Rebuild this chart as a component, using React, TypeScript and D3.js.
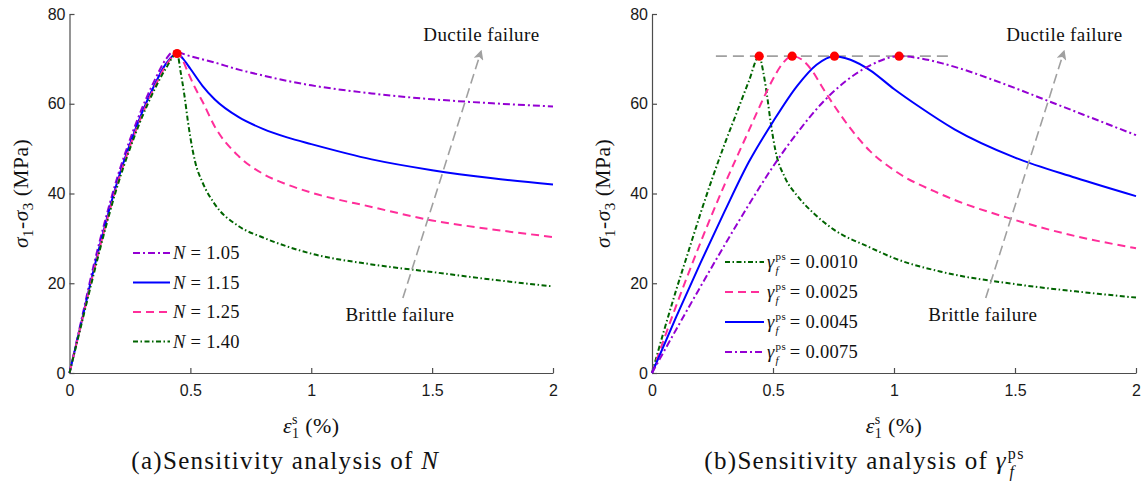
import { useEffect, useRef } from "react";
import * as d3 from "d3";

type Pt = [number, number];

const xTicks = [0, 0.5, 1, 1.5, 2];
const yTicks = [0, 20, 40, 60, 80];

// (a) sensitivity to N
const curveN105: Pt[] = [[0, 0], [0.05, 12], [0.1, 24], [0.15, 34.5], [0.2, 44], [0.25, 52], [0.3, 59], [0.35, 65], [0.4, 70], [0.43, 71.6], [0.5, 70.6], [0.6, 69.2], [0.7, 67.6], [0.8, 66.3], [0.9, 65.1], [1.0, 64.1], [1.25, 62.3], [1.5, 61], [1.75, 60.1], [2, 59.4]];
const curveN115: Pt[] = [[0, 0], [0.05, 11.5], [0.1, 23], [0.15, 33.5], [0.2, 43], [0.25, 51], [0.3, 58], [0.35, 64], [0.4, 69], [0.445, 71.2], [0.47, 70], [0.5, 67.8], [0.55, 64], [0.6, 61], [0.7, 57], [0.8, 54.4], [0.9, 52.5], [1.0, 51], [1.25, 47.6], [1.5, 45.2], [1.75, 43.4], [2, 42]];
const curveN125: Pt[] = [[0, 0], [0.05, 11.3], [0.1, 22.6], [0.15, 33], [0.2, 42.5], [0.25, 50.5], [0.3, 57.5], [0.35, 63.5], [0.4, 68.6], [0.445, 71.2], [0.47, 69.5], [0.49, 67], [0.52, 63.5], [0.55, 60.5], [0.6, 55], [0.7, 48.3], [0.8, 44.4], [0.9, 42], [1.0, 40.2], [1.25, 37], [1.5, 34], [1.75, 32], [2, 30.3]];
const curveN140: Pt[] = [[0, 0], [0.05, 11], [0.1, 22], [0.15, 32.5], [0.2, 42], [0.25, 50], [0.3, 57], [0.35, 63], [0.4, 68], [0.445, 71.2], [0.46, 67], [0.475, 62], [0.49, 56], [0.5, 52.5], [0.52, 47], [0.55, 42.5], [0.6, 37.7], [0.7, 32.7], [0.8, 30.2], [0.9, 28.2], [1.0, 26.6], [1.25, 24.2], [1.5, 22.5], [1.75, 20.8], [2, 19.3]];
const peaksN: Pt[] = [[0.445, 71.2]];

// (b) sensitivity to gamma_f^ps
const curveG0010: Pt[] = [[0, 0], [0.05, 9.5], [0.1, 18.5], [0.15, 27], [0.2, 35.5], [0.25, 43.5], [0.3, 51], [0.35, 58], [0.4, 65], [0.443, 70.6], [0.46, 67], [0.475, 62], [0.49, 56], [0.51, 49.6], [0.55, 43.5], [0.6, 39.5], [0.67, 35.5], [0.75, 32], [0.9, 28], [1.0, 25.6], [1.2, 22.5], [1.5, 19.8], [1.75, 18.2], [2, 16.8]];
const curveG0025: Pt[] = [[0, 0], [0.1, 15], [0.2, 29], [0.3, 42], [0.4, 54], [0.45, 60], [0.5, 65.5], [0.54, 69], [0.579, 70.6], [0.62, 69.8], [0.66, 67.5], [0.7, 64], [0.75, 59.8], [0.82, 54.5], [0.9, 49.5], [1.0, 45.2], [1.2, 39.7], [1.5, 34.1], [1.75, 30.5], [2, 27.8]];
const curveG0045: Pt[] = [[0, 0], [0.1, 12.5], [0.2, 24.5], [0.3, 36], [0.4, 47], [0.5, 56], [0.6, 64], [0.68, 68.7], [0.754, 70.6], [0.82, 69.8], [0.9, 67.5], [1.0, 63.3], [1.1, 59.5], [1.25, 54.3], [1.5, 48], [1.75, 43.5], [2, 39.4]];
const curveG0075: Pt[] = [[0, 0], [0.1, 9.7], [0.2, 19.2], [0.3, 28.5], [0.4, 37.5], [0.5, 46], [0.6, 53.5], [0.7, 60], [0.8, 65], [0.9, 68.5], [1.021, 70.6], [1.1, 70.2], [1.2, 69.0], [1.3, 67.4], [1.4, 65.5], [1.5, 63.5], [1.6, 61.4], [1.7, 59.3], [1.8, 57.2], [1.9, 55.1], [2, 53]];
const peaksG: Pt[] = [[0.443, 70.6], [0.579, 70.6], [0.754, 70.6], [1.021, 70.6]];
const peakLineG: Pt[] = [[0.264, 70.6], [1.234, 70.6]];

const labelsN = ["1.05", "1.15", "1.25", "1.40"];
const labelsG = ["0.0010", "0.0025", "0.0045", "0.0075"];

// arrows & notes in data units
const trendArrow: Pt[] = [[1.379, 16.7], [1.702, 71.6]];
const ductileAt: Pt = [1.704, 74];
const brittleAt: Pt = [1.367, 11.6];

const PURPLE = "#9400d3";
const BLUE = "#0000ff";
const PINK = "#ff2e9a";
const GREEN = "#006400";
const AXIS = "#4d4d4d";
const GREY = "#a0a0a0";
const SERIF = "Liberation Serif, DejaVu Serif, serif";
const SANS = "Liberation Sans, Arial, sans-serif";

const DASHDOT = "7,3,2,3";
const DASHDOT_FINE = "5,2.5,1.5,2.5";
const DASHED = "8,5";

interface Series { data: Pt[]; color: string; dash: string | null; }

const serifStyle = { fontFamily: SERIF };

function Gamma({ size }: { size: number }) {
  const s = Math.round(size * 0.62);
  const psW = s * 0.95;
  const fW = s * 0.32;
  return (
    <>
      <tspan fontStyle="italic">γ</tspan>
      <tspan fontSize={s} dx={1} dy={-size * 0.42}>ps</tspan>
      <tspan fontSize={s} fontStyle="italic" dx={-psW} dy={size * 0.72}>f</tspan>
      <tspan dx={psW - fW} dy={-size * 0.3}>{"\u2009"}</tspan>
    </>
  );
}

function Axes({ x, y, h }: { x: d3.ScaleLinear<number, number>; y: d3.ScaleLinear<number, number>; h: number }) {
  const gx = useRef<SVGGElement>(null);
  const gy = useRef<SVGGElement>(null);
  useEffect(() => {
    const style = (g: d3.Selection<SVGGElement, unknown, null, undefined>) => {
      g.attr("font-family", null).style("font-family", SANS).attr("font-size", 16);
      g.select(".domain").attr("stroke", AXIS).attr("stroke-width", 1.2);
      g.selectAll(".tick line").attr("stroke", AXIS).attr("stroke-width", 1.2);
      g.selectAll(".tick text").attr("fill", "#1a1a1a");
    };
    d3.select(gx.current!)
      .call(d3.axisBottom(x).tickValues(xTicks).tickSizeInner(-5).tickSizeOuter(0).tickPadding(12).tickFormat((d) => String(d)))
      .call(style);
    d3.select(gy.current!)
      .call(d3.axisLeft(y).tickValues(yTicks).tickSizeInner(-5).tickSizeOuter(0).tickPadding(4).tickFormat((d) => String(d)))
      .call(style);
  }, [x, y]);
  return (
    <>
      <g ref={gx} transform={`translate(0,${h})`} />
      <g ref={gy} transform={`translate(${x.range()[0]},0)`} />
    </>
  );
}

function Panel(props: {
  x0: number; x1: number; series: Series[]; peaks: Pt[]; peakLine?: Pt[];
  legendX: number; legendY: number; legendStep: number; legendLen: number;
  legend: (i: number) => JSX.Element; caption: JSX.Element;
}) {
  const top = 14, bottom = 373;
  const x = d3.scaleLinear().domain([0, 2]).range([props.x0, props.x1]);
  const y = d3.scaleLinear().domain([0, 80]).range([bottom, top]);
  const line = d3.line<Pt>().x((d) => x(d[0])).y((d) => y(d[1])).curve(d3.curveMonotoneX);
  const flat = d3.line<Pt>().x((d) => x(d[0])).y((d) => y(d[1]));
  const cx = (props.x0 + props.x1) / 2;
  return (
    <g>
      <Axes x={x} y={y} h={bottom} />
      {props.peakLine && (
        <path d={flat(props.peakLine)!} fill="none" stroke={GREY} strokeWidth={1.8} strokeDasharray="11,6" />
      )}
      {props.series.map((s, i) => (
        <path key={i} d={line(s.data)!} fill="none" stroke={s.color} strokeWidth={2}
          strokeDasharray={s.dash ?? undefined} />
      ))}
      {props.peaks.map((p, i) => (
        <circle key={i} cx={x(p[0])} cy={y(p[1])} r={4.6} fill="#ff0000" />
      ))}
      <path d={flat(trendArrow)!} fill="none" stroke={GREY} strokeWidth={1.6} strokeDasharray="10,5" markerEnd="url(#arrowHead)" />
      <text x={x(ductileAt[0])} y={y(ductileAt[1])} textAnchor="middle" style={serifStyle} fontSize={19} letterSpacing={0.4} fill="#111">Ductile failure</text>
      <text x={x(brittleAt[0])} y={y(brittleAt[1])} textAnchor="middle" style={serifStyle} fontSize={19} letterSpacing={0.4} fill="#111">Brittle failure</text>
      {props.series.map((s, i) => {
        const ly = props.legendY + i * props.legendStep;
        const lx = props.x0 + props.legendX;
        return (
          <g key={i}>
            <line x1={lx} x2={lx + props.legendLen} y1={ly} y2={ly} stroke={s.color} strokeWidth={2}
              strokeDasharray={s.dash ?? undefined} />
            <text x={lx + props.legendLen + 3} y={ly + 6} style={serifStyle} fontSize={18.5} letterSpacing={0.3} fill="#111">{props.legend(i)}</text>
          </g>
        );
      })}
      <text transform={`translate(${props.x0 - 42},${(top + bottom) / 2}) rotate(-90)`} textAnchor="middle"
        style={serifStyle} fontSize={21.5} letterSpacing={0.5} fill="#111">
        <tspan fontStyle="italic">σ</tspan>
        <tspan fontSize={15} dy={5}>1</tspan>
        <tspan dy={-5}>-</tspan>
        <tspan fontStyle="italic">σ</tspan>
        <tspan fontSize={15} dy={5}>3</tspan>
        <tspan dy={-5}>{"\u00a0(MPa)"}</tspan>
      </text>
      <text x={cx} y={433} textAnchor="middle" style={serifStyle} fontSize={22} letterSpacing={0.4} fill="#111">
        <tspan fontStyle="italic">ε</tspan>
        <tspan fontSize={14} dy={-9}>s</tspan>
        <tspan fontSize={14} dx={-6} dy={14}>1</tspan>
        <tspan dy={-5}>{"\u00a0(%)"}</tspan>
      </text>
      <text x={cx - 26} y={469} textAnchor="middle" style={serifStyle} fontSize={25} letterSpacing={1.3} fill="#111">{props.caption}</text>
    </g>
  );
}

export default function App() {
  const seriesN: Series[] = [
    { data: curveN105, color: PURPLE, dash: DASHDOT },
    { data: curveN115, color: BLUE, dash: null },
    { data: curveN125, color: PINK, dash: DASHED },
    { data: curveN140, color: GREEN, dash: DASHDOT_FINE },
  ];
  const seriesG: Series[] = [
    { data: curveG0010, color: GREEN, dash: DASHDOT_FINE },
    { data: curveG0025, color: PINK, dash: DASHED },
    { data: curveG0045, color: BLUE, dash: null },
    { data: curveG0075, color: PURPLE, dash: DASHDOT },
  ];
  return (
    <svg width={1145} height={486} style={{ position: "absolute", left: 0, top: 0, background: "#fff" }}>
      <defs>
        <marker id="arrowHead" viewBox="0 0 10 10" refX="8" refY="5" markerWidth="10" markerHeight="10"
          markerUnits="userSpaceOnUse" orient="auto">
          <path d="M0,0 L10,5 L0,10 L2.5,5 Z" fill={GREY} />
        </marker>
      </defs>
      <Panel x0={69.5} x1={553} series={seriesN} peaks={peaksN}
        legendX={63.5} legendY={253} legendStep={29.5} legendLen={37}
        legend={(i) => (<><tspan fontStyle="italic">N</tspan>{` = ${labelsN[i]}`}</>)}
        caption={<>(a)Sensitivity analysis of <tspan fontStyle="italic">N</tspan></>} />
      <Panel x0={652} x1={1136} series={seriesG} peaks={peaksG} peakLine={peakLineG}
        legendX={73} legendY={262} legendStep={30} legendLen={39}
        legend={(i) => (<><Gamma size={18.5} />{`= ${labelsG[i]}`}</>)}
        caption={<>(b)Sensitivity analysis of <Gamma size={25} /></>} />
    </svg>
  );
}
